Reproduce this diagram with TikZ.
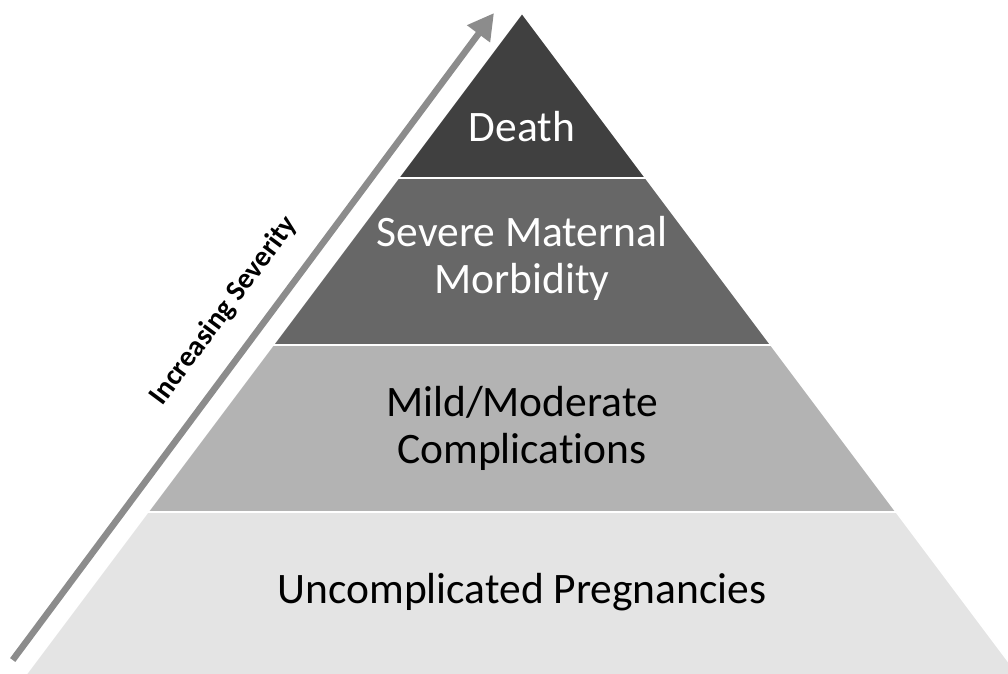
\documentclass[tikz,border=0pt]{standalone}
\usepackage{fontspec}
\setmainfont{Carlito}[Ligatures=NoCommon]
\usetikzlibrary{arrows.meta}
\definecolor{cDeath}{HTML}{404040}
\definecolor{cSevere}{HTML}{676767}
\definecolor{cMild}{HTML}{B3B3B3}
\definecolor{cBase}{HTML}{E4E4E4}
\definecolor{cArrow}{HTML}{8C8C8C}
\tikzset{
  layer/.style={draw=white, line width=1.6pt, line join=miter},
  lbl/.style={align=center, font=\fontsize{43.5}{47}\selectfont, inner sep=0pt},
  sev/.style={font=\fontsize{29}{34}\bfseries\selectfont, inner sep=0pt, rotate=53.4},
}
\begin{document}
\begin{tikzpicture}[x=1pt,y=-1pt]
\useasboundingbox (0,0) rectangle (1008,673);
% layer boundaries
\coordinate (apex) at (522,13);
\coordinate (l1) at (398.25,178); \coordinate (r1) at (645.75,178);
\coordinate (l2) at (273,345);    \coordinate (r2) at (771,345);
\coordinate (l3) at (147.75,512); \coordinate (r3) at (896.25,512);
\coordinate (l4) at (24,677);     \coordinate (r4) at (1020,677);
\begin{scope}
\clip (0,0) rectangle (1008,673);
\fill[cBase, layer] (l3) -- (r3) -- (r4) -- (l4) -- cycle;
\fill[cMild, layer] (l2) -- (r2) -- (r3) -- (l3) -- cycle;
\fill[cSevere, layer] (l1) -- (r1) -- (r2) -- (l2) -- cycle;
\fill[cDeath, layer] (apex) -- (r1) -- (l1) -- cycle;
\draw[layer] (l3) -- (r3) (l2) -- (r2) (l1) -- (r1);
\end{scope}
% labels
\node[lbl, text=white] (death) at (522,127) {Death};
\node[lbl, text=white] (severe) at (522,258) {Severe Maternal\\Morbidity};
\node[lbl, text=black] (mild) at (522,428) {Mild/Moderate\\Complications};
\node[lbl, text=black] (unc) at (522,592) {Uncomplicated Pregnancies};
% arrow
\coordinate (atail) at (12.7,660);
\coordinate (ahead) at (494,13);
\draw[cArrow, line width=6.5pt, -{Triangle[length=26pt, width=27pt]}] (atail) -- (ahead);
\node[sev] (incr) at (224,311) {Increasing Severity};
\end{tikzpicture}
\end{document}
